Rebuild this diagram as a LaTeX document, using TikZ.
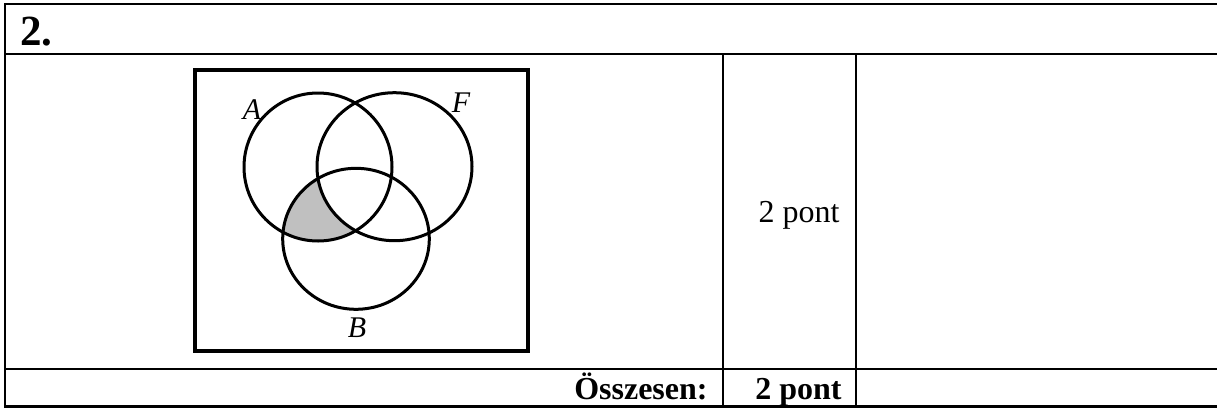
\documentclass[tikz,border=0pt]{standalone}
\usepackage{fontspec}
\setmainfont{Liberation Serif}
\usetikzlibrary{positioning}

\definecolor{regiongray}{RGB}{192,192,192}
\newcommand{\setA}{(318,167) ellipse [x radius=74, y radius=74]}
\newcommand{\setF}{(394.5,166.7) ellipse [x radius=77.5, y radius=74]}
\newcommand{\setB}{(356,238.8) ellipse [x radius=73.3, y radius=70.5]}

\begin{document}
\begin{tikzpicture}[x=0.5pt, y=-0.5pt,
    rule/.style={line width=1.1pt},
    frame/.style={line width=1.8pt},
    venn/.style={line width=1.5pt},
    head/.style={inner sep=0pt, font=\fontsize{21.5}{26}\selectfont\bfseries},
    cell/.style={inner sep=0pt, font=\fontsize{16}{19}\selectfont},
    total/.style={inner sep=0pt, font=\fontsize{16}{19}\selectfont\bfseries},
    lbl/.style={inner sep=0pt, font=\fontsize{15}{18}\selectfont\itshape},
]
\useasboundingbox (0,0) rectangle (1217,408);

% table
\draw[rule] (1217,4) -- (5,4) -- (5,406.5) -- (1217,406.5);
\draw[rule] (5,54) -- (1217,54);
\draw[rule] (5,369) -- (1217,369);
\draw[rule] (722.7,54) -- (722.7,406.5);
\draw[rule] (855.7,54) -- (855.7,406.5);

\node[head, anchor=base west] (num) at (20,45) {2.};
\node[cell, anchor=base east] (pts) at (840,222.7) {2 pont};
\node[total, anchor=base east] (sumlbl) at (708,399) {Összesen:};
\node[total, anchor=base west] (sumpts) at (755,399) {2 pont};

% venn diagram
\draw[frame] (195,70) rectangle (528,351);
\begin{scope}
    \clip \setA;
    \clip \setB;
    \fill[regiongray, even odd rule] (195,70) rectangle (528,351) \setF;
\end{scope}
\draw[venn] \setA;
\draw[venn] \setF;
\draw[venn] \setB;

\node[lbl, anchor=base] (labA) at (252,119) {A};
\node[lbl, anchor=base] (labF) at (461,112) {F};
\node[lbl, anchor=base] (labB) at (357,337) {B};
\end{tikzpicture}
\end{document}
